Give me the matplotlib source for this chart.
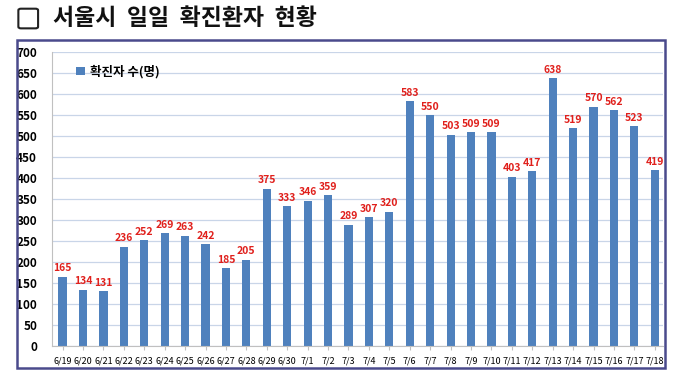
import matplotlib.pyplot as plt
import matplotlib.patches as patches

plt.rcParams['font.family'] = ['Noto Sans CJK KR', 'DejaVu Sans']

dates = ['6/19', '6/20', '6/21', '6/22', '6/23', '6/24', '6/25', '6/26', '6/27', '6/28',
         '6/29', '6/30', '7/1', '7/2', '7/3', '7/4', '7/5', '7/6', '7/7', '7/8',
         '7/9', '7/10', '7/11', '7/12', '7/13', '7/14', '7/15', '7/16', '7/17', '7/18']
cases = [165, 134, 131, 236, 252, 269, 263, 242, 185, 205,
         375, 333, 346, 359, 289, 307, 320, 583, 550, 503,
         509, 509, 403, 417, 638, 519, 570, 562, 523, 419]
yticks = list(range(0, 701, 50))

fig = plt.figure(figsize=(6.8, 3.78), dpi=100)
ax = fig.add_axes([0.077, 0.085, 0.898, 0.777])

x = range(len(dates))
bars = ax.bar(x, cases, width=0.4, color='#4f81bd', label='확진자 수(명)', zorder=2)
for xi, v in zip(x, cases):
    ax.text(xi, v + 8, str(v), ha='center', va='bottom', color='#e0201c',
            fontsize=7.5, fontweight='bold')

ax.set_xlim(-0.5, 29.4)
ax.set_ylim(0, 700)
ax.set_yticks(yticks)
ax.set_xticks(list(x))
ax.set_xticklabels(dates, fontsize=6.5)
ax.tick_params(axis='y', labelsize=8.5, length=0, pad=11)
ax.tick_params(axis='x', length=3, color='#c0c0c0', pad=5)
for lab in ax.get_yticklabels():
    lab.set_fontweight('bold')
ax.grid(axis='y', color='#c9d5e8', linewidth=0.9, zorder=0)
for s in ['top', 'right']:
    ax.spines[s].set_visible(False)
ax.spines['left'].set_color('#c0c0c0')
ax.spines['bottom'].set_color('#c0c0c0')

leg = ax.legend(loc='upper left', bbox_to_anchor=(0.02, 0.995), frameon=False,
                prop={'size': 9, 'weight': 'bold'}, handlelength=0.7, handleheight=0.7,
                handletextpad=0.4)

# outer frame
fig.patches.append(patches.Rectangle((0.025, 0.026), 0.953, 0.868, transform=fig.transFigure,
                                     fill=False, edgecolor='#4a4a8c', linewidth=1.8))

# title
fig.patches.append(patches.FancyBboxPatch((0.027, 0.925), 0.029, 0.052, transform=fig.transFigure,
                                          boxstyle='round,pad=0,rounding_size=0.004',
                                          fill=False, edgecolor='#222222', linewidth=1.5))
fig.text(0.078, 0.950, '서울시  일일  확진환자  현황', fontsize=16.5, fontweight='bold',
         va='center', ha='left', color='#111111')

fig.savefig('out.png', dpi=100)
